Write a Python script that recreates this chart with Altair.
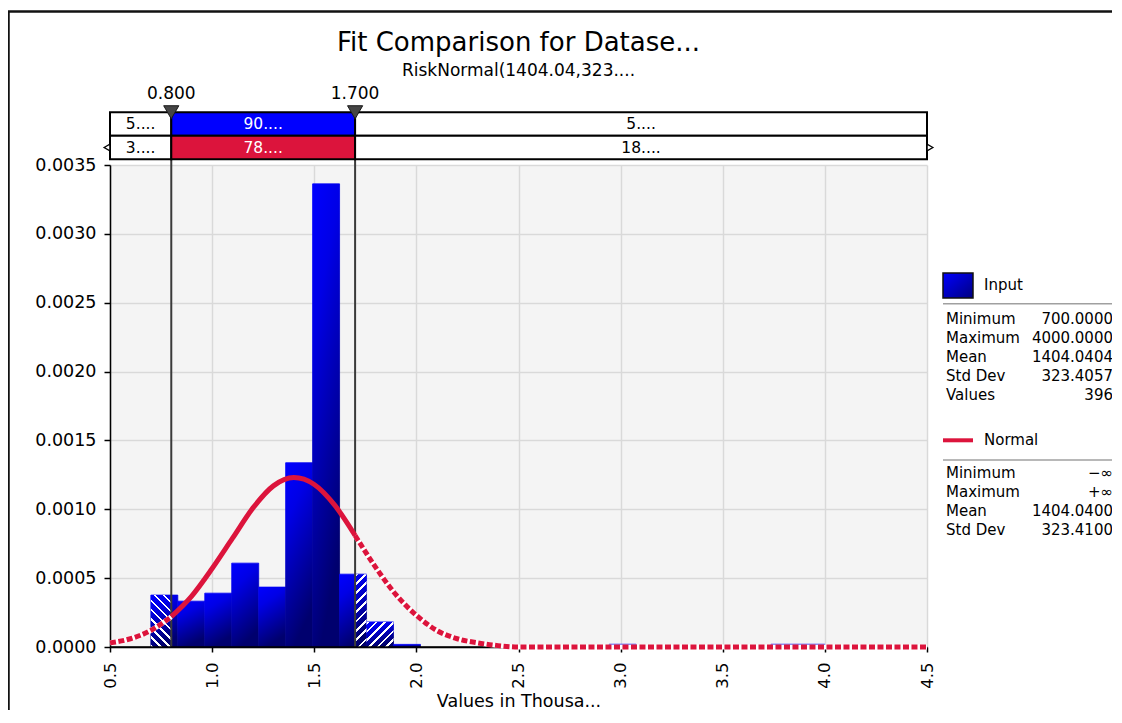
import altair as alt
import pandas as pd

# ---------------- values ----------------
bin_start = [0.700, 0.832, 0.964, 1.096, 1.228, 1.360, 1.492, 1.624, 1.756, 1.888, 2.944, 3.736, 3.868]
bin_width = 0.132
bin_density = [0.000377, 0.000333, 0.000391, 0.000609, 0.000435, 0.001338, 0.003363,
               0.000529, 0.000182, 0.000019, 0.000020, 0.000020, 0.000020]

curve_x = [0.5, 0.6, 0.7, 0.8, 0.9, 1.0, 1.1, 1.2, 1.3, 1.4, 1.5, 1.6, 1.7, 1.8, 1.9,
           2.0, 2.1, 2.2, 2.3, 2.4, 2.5, 2.6, 3.0, 3.5, 4.0, 4.5]
curve_y = [0.00003, 0.00006, 0.00012, 0.00022, 0.00037, 0.00057, 0.00079, 0.00101, 0.00117,
           0.00123, 0.00118, 0.00103, 0.00081, 0.00058, 0.00038, 0.00023, 0.00012, 0.00006,
           0.00003, 0.00001, 0.0, 0.0, 0.0, 0.0, 0.0, 0.0]

delimiters = [0.8, 1.7]
x_range = [0.5, 4.5]
y_range = [0.0, 0.0035]
x_ticks = [0.5, 1.0, 1.5, 2.0, 2.5, 3.0, 3.5, 4.0, 4.5]
y_ticks = [0.0, 0.0005, 0.0010, 0.0015, 0.0020, 0.0025, 0.0030, 0.0035]

input_row_labels = ["5....", "90....", "5...."]
fit_row_labels = ["3....", "78....", "18...."]

chart_title = "Fit Comparison for Datase..."
chart_subtitle = "RiskNormal(1404.04,323...."
x_title = "Values in Thousa..."

input_name = "Input"
input_stat_names = ["Minimum", "Maximum", "Mean", "Std Dev", "Values"]
input_stat_values = ["700.0000", "4000.0000", "1404.0404", "323.4057", "396"]
fit_name = "Normal"
fit_stat_names = ["Minimum", "Maximum", "Mean", "Std Dev"]
fit_stat_values = ["\u2212\u221e", "+\u221e", "1404.0400", "323.4100"]

# ---------------- layout / style ----------------
W, H = 817, 482
FONT = "DejaVu Sans"
BLUE = "#0000ff"
RED = "#dc143c"
WHITE = "#ffffff"
CLEAR = "rgba(255,255,255,0)"
ROW1_TOP, ROW_MID, ROW2_BOT = -52.7, -29.3, -5.7

BAR_GRAD = {"gradient": "linear", "x1": 0, "y1": 0, "x2": 0.3, "y2": 1,
            "stops": [{"offset": 0, "color": "#0000ff"},
                      {"offset": 0.3, "color": "#0000e6"},
                      {"offset": 1, "color": "#00006e"}]}
LEGEND_GRAD = {"gradient": "linear", "x1": 0, "y1": 0, "x2": 1, "y2": 1,
               "stops": [{"offset": 0, "color": "#0000ff"},
                         {"offset": 1, "color": "#000080"}]}

xs = alt.Scale(domain=x_range, nice=False, zero=False)
ys = alt.Scale(domain=y_range, nice=False, zero=True)
px_x = W / (x_range[1] - x_range[0])
px_y = H / (y_range[1] - y_range[0])


def stripe_gradient(w, h, direction, spacing=9.0, frac=0.3):
    s = (w + h) / (w * w + h * h)
    if direction == "/":
        x1, y1, x2, y2 = 0, 0, s * w, s * h
    else:
        x1, y1, x2, y2 = 0, 1, s * w, 1 - s * h
    n = max(2, int(round((w + h) / spacing)))
    stops = []
    for k in range(n):
        p0, p1, p2 = k / n, (k + frac) / n, (k + 1) / n
        stops += [{"offset": p0, "color": WHITE}, {"offset": p1, "color": WHITE},
                  {"offset": p1, "color": CLEAR}, {"offset": p2, "color": CLEAR}]
    return {"gradient": "linear", "x1": x1, "y1": y1, "x2": x2, "y2": y2, "stops": stops}


# ---------------- histogram ----------------
bars_df = pd.DataFrame({"x0": bin_start,
                        "x1": [b + bin_width for b in bin_start],
                        "d": bin_density,
                        "z": [0.0] * len(bin_start)})

x_axis = alt.Axis(values=x_ticks, format=".1f", labelAngle=270, title=x_title,
                  labelFontSize=16.5, titleFontSize=17.5, titleFontWeight="normal",
                  tickSize=5, labelPadding=10, titlePadding=4, grid=True)
y_axis = alt.Axis(values=y_ticks, format=".4f", title="", labelFontSize=17.5,
                  tickSize=6, labelPadding=8, grid=True)


def X(field):
    return alt.X(field, scale=xs, axis=x_axis)


def Y(field):
    return alt.Y(field, scale=ys, axis=y_axis)


bars = alt.Chart(bars_df).mark_rect(fill=BAR_GRAD, stroke=BAR_GRAD, strokeWidth=0.8).encode(
    x=X("x0:Q"), x2="x1:Q", y=Y("d:Q"), y2="z:Q")

lo, hi = delimiters
hatch_layers = []
for x0, d in zip(bin_start, bin_density):
    x1 = x0 + bin_width
    h = d * px_y
    if h < 3:
        continue
    parts = []
    if x0 < lo:
        parts.append((x0, min(x1, lo), "\\"))
    if x1 > hi:
        parts.append((max(x0, hi), x1, "/"))
    for a, b, dirn in parts:
        w = (b - a) * px_x
        df = pd.DataFrame({"x0": [a], "x1": [b], "d": [d], "z": [0.0]})
        hatch_layers.append(
            alt.Chart(df).mark_rect(fill=stripe_gradient(w, h, dirn)).encode(
                x=X("x0:Q"), x2="x1:Q", y=Y("d:Q"), y2="z:Q"))

one = pd.DataFrame({"k": [0]})
baseline = alt.Chart(one).mark_rule(color="black", strokeWidth=1.5).encode(
    x=alt.value(0), x2=alt.value(W), y=alt.value(H))

# ---------------- fitted curve ----------------
rows = []
for x, y in zip(curve_x, curve_y):
    if x <= lo:
        rows.append((x, y, "left"))
    if lo <= x <= hi:
        rows.append((x, y, "mid"))
    if x >= hi:
        rows.append((x, y, "right"))
curve_df = pd.DataFrame(rows, columns=["x0", "d", "seg"])
curve_base = alt.Chart(curve_df).encode(x=X("x0:Q"), y=Y("d:Q"), detail="seg:N")
tails_white = curve_base.transform_filter("datum.seg != 'mid'").mark_line(
    color="white", strokeWidth=5, interpolate="monotone")
tails_red = curve_base.transform_filter("datum.seg != 'mid'").mark_line(
    color=RED, strokeWidth=5, strokeDash=[6, 2.5], interpolate="monotone")
mid_red = curve_base.transform_filter("datum.seg == 'mid'").mark_line(
    color=RED, strokeWidth=5, interpolate="monotone")

# ---------------- delimiters and probability bands ----------------
delim_df = pd.DataFrame({"x0": delimiters})
delim_lines = alt.Chart(delim_df).mark_rule(color="#3a3a3a", strokeWidth=2).encode(
    x=X("x0:Q"), y=alt.value(ROW1_TOP), y2=alt.value(H))
delim_marks = alt.Chart(delim_df).mark_point(
    shape="triangle-down", filled=True, fill="#454545", stroke="#1a1a1a",
    strokeWidth=1, size=230, opacity=1).encode(x=X("x0:Q"), y=alt.value(ROW1_TOP))
delim_text = alt.Chart(delim_df).mark_text(font=FONT, fontSize=17, baseline="middle").encode(
    x=X("x0:Q"), y=alt.value(-71.5), text=alt.Text("x0:Q", format=".3f"))

edges = [x_range[0]] + delimiters + [x_range[1]]
seg_df = pd.DataFrame({"x0": edges[:-1], "x1": edges[1:],
                       "part": ["below", "inside", "above"],
                       "l1": input_row_labels, "l2": fit_row_labels})


def band(label_field, fill_color, top, bottom):
    base = alt.Chart(seg_df)
    rect = base.mark_rect(stroke="black", strokeWidth=2).encode(
        x=X("x0:Q"), x2="x1:Q",
        y=alt.value(top), y2=alt.value(bottom),
        fill=alt.condition("datum.part == 'inside'", alt.value(fill_color), alt.value("white")))
    text = base.transform_calculate(xm="(datum.x0 + datum.x1) / 2").mark_text(
        font=FONT, fontSize=15.5, baseline="middle").encode(
        x=X("xm:Q"), y=alt.value((top + bottom) / 2),
        text=f"{label_field}:N",
        color=alt.condition("datum.part == 'inside'", alt.value("white"), alt.value("black")))
    return [rect, text]


band_layers = band("l1", BLUE, ROW1_TOP, ROW_MID) + band("l2", RED, ROW_MID, ROW2_BOT)

ends_df = pd.DataFrame({"x0": x_range})
row2_mid = (ROW_MID + ROW2_BOT) / 2
arrow_left = alt.Chart(ends_df).transform_filter(f"datum.x0 == {x_range[0]}").mark_point(
    shape="triangle-left", filled=True, fill="white", stroke="black", strokeWidth=1.3,
    size=45, opacity=1, xOffset=-3).encode(x=X("x0:Q"), y=alt.value(row2_mid))
arrow_right = alt.Chart(ends_df).transform_filter(f"datum.x0 == {x_range[1]}").mark_point(
    shape="triangle-right", filled=True, fill="white", stroke="black", strokeWidth=1.3,
    size=45, opacity=1, xOffset=3).encode(x=X("x0:Q"), y=alt.value(row2_mid))

# ---------------- legend panel ----------------
LX = 833
swatch = alt.Chart(one).mark_rect(fill=LEGEND_GRAD, stroke="#111111", strokeWidth=1.5).encode(
    x=alt.value(LX), x2=alt.value(LX + 30), y=alt.value(108), y2=alt.value(133))
input_label = alt.Chart(one).mark_text(font=FONT, fontSize=15, align="left", baseline="middle").encode(
    x=alt.value(874), y=alt.value(120), text=alt.value(input_name))
fit_line = alt.Chart(one).mark_rule(color=RED, strokeWidth=4).encode(
    x=alt.value(LX), x2=alt.value(LX + 30), y=alt.value(275.3))
fit_label = alt.Chart(one).mark_text(font=FONT, fontSize=15, align="left", baseline="middle").encode(
    x=alt.value(874), y=alt.value(275.3), text=alt.value(fit_name))
sep1 = alt.Chart(one).mark_rule(color="#a0a0a0", strokeWidth=1.5).encode(
    x=alt.value(LX), x2=alt.value(1004), y=alt.value(138.7))
sep2 = alt.Chart(one).mark_rule(color="#a0a0a0", strokeWidth=1.5).encode(
    x=alt.value(LX), x2=alt.value(1004), y=alt.value(295))


def stat_rows(names, values, y0):
    layers = []
    for i, (n, v) in enumerate(zip(names, values)):
        yy = y0 + i * 19
        layers.append(alt.Chart(one).mark_text(font=FONT, fontSize=15, align="left", baseline="middle").encode(
            x=alt.value(836), y=alt.value(yy), text=alt.value(n)))
        layers.append(alt.Chart(one).mark_text(font=FONT, fontSize=15, align="right", baseline="middle").encode(
            x=alt.value(1003), y=alt.value(yy), text=alt.value(v)))
    return layers


legend_layers = ([swatch, input_label, sep1] + stat_rows(input_stat_names, input_stat_values, 153.7)
                 + [fit_line, fit_label, sep2] + stat_rows(fit_stat_names, fit_stat_values, 308.3))

# ---------------- titles and frame ----------------
title_text = alt.Chart(one).mark_text(font=FONT, fontSize=26, align="center", baseline="alphabetic").encode(
    x=alt.value(W / 2), y=alt.value(-114.3), text=alt.value(chart_title))
subtitle_text = alt.Chart(one).mark_text(font=FONT, fontSize=17, align="center", baseline="alphabetic").encode(
    x=alt.value(W / 2), y=alt.value(-89), text=alt.value(chart_subtitle))
frame_v = alt.Chart(one).mark_rule(color="#111111", strokeWidth=2.5).encode(
    x=alt.value(-101.5), y=alt.value(-153.5), y2=alt.value(H + 100))
frame_h = alt.Chart(one).mark_rule(color="#111111", strokeWidth=2.5).encode(
    x=alt.value(-102.5), x2=alt.value(W + 200), y=alt.value(-153.5))

chart = alt.layer(
    bars, *hatch_layers, delim_lines, baseline, tails_white, tails_red, mid_red,
    *band_layers, delim_marks, delim_text, arrow_left, arrow_right,
    *legend_layers, title_text, subtitle_text, frame_v, frame_h
).properties(
    width=W, height=H,
    padding={"left": 102, "top": 157, "right": 185, "bottom": 63},
    autosize=alt.AutoSizeParams(type="none"),
    background="white"
).configure(font=FONT).configure_view(
    fill="#f4f4f4", stroke=None
).configure_axis(
    labelFont=FONT, titleFont=FONT, labelColor="black", titleColor="black",
    domainColor="black", domainWidth=1.5, tickColor="black", tickWidth=1.5,
    gridColor="#d9d9d9", gridWidth=1.5
)

chart.save("out.html", embed_options={"renderer": "svg", "actions": False})
